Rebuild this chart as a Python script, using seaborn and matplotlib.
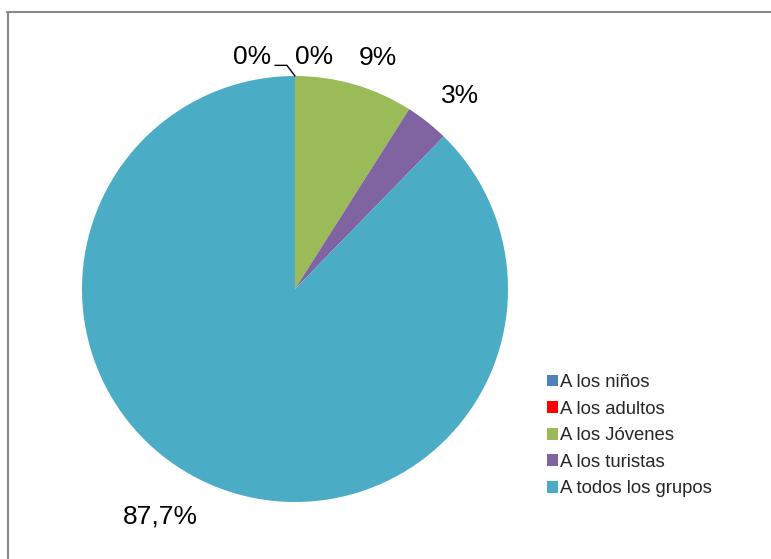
import matplotlib
matplotlib.use("Agg")
import matplotlib.pyplot as plt
import seaborn as sns
from matplotlib.lines import Line2D
from matplotlib.patches import Patch

sns.set_theme(style="white")
plt.rcParams['font.family'] = ['Liberation Sans', 'DejaVu Sans']

categories = ["A los niños", "A los adultos", "A los Jóvenes", "A los turistas", "A todos los grupos"]
values = [0.0, 0.0, 9.0, 3.3, 87.7]
value_labels = ["0%", "0%", "9%", "3%", "87,7%"]
colors = ["#4F81BD", "#FF0000", "#9BBB59", "#8064A2", "#4BACC6"]

W, H = 771, 559
fig = plt.figure(figsize=(W / 100, H / 100), dpi=100)
cx, cy, r = 295, 289, 213
ax = fig.add_axes([(cx - r) / W, (H - cy - r) / H, 2 * r / W, 2 * r / H])

wedges, _ = ax.pie(values, colors=colors, startangle=90, counterclock=False,
                   radius=1.0, wedgeprops=dict(linewidth=0))
ax.set_xlim(-1, 1)
ax.set_ylim(-1, 1)
ax.set_aspect("equal")
ax.axis("off")

label_pos = [(-0.20, 1.09), (0.09, 1.09), (0.39, 1.085), (0.775, 0.905), (-0.63, -1.07)]
for txt, (x, y) in zip(value_labels, label_pos):
    ax.text(x, y, txt, ha="center", va="center", fontsize=19, color="black", clip_on=False)

# leader line for first zero label
ax.plot([-0.094, -0.038, 0.0], [1.05, 1.05, 1.0], color="black", lw=1, clip_on=False)

handles = [Patch(facecolor=c, edgecolor="none") for c in colors]
fig.legend(handles, categories, loc="upper left", bbox_to_anchor=(547 / W, 1 - 374 / H),
           frameon=False, fontsize=13.3, handlelength=0.6, handleheight=0.6,
           handletextpad=0.12, labelspacing=0.52, borderaxespad=0, borderpad=0)

fig.add_artist(Line2D([7 / W, 1], [1 - 12 / H, 1 - 12 / H], color="#888888", lw=1.5,
                      transform=fig.transFigure))
fig.add_artist(Line2D([8 / W, 8 / W], [0, 1 - 12 / H], color="#888888", lw=1.5,
                      transform=fig.transFigure))

fig.savefig("out.png", dpi=100, facecolor="white")
